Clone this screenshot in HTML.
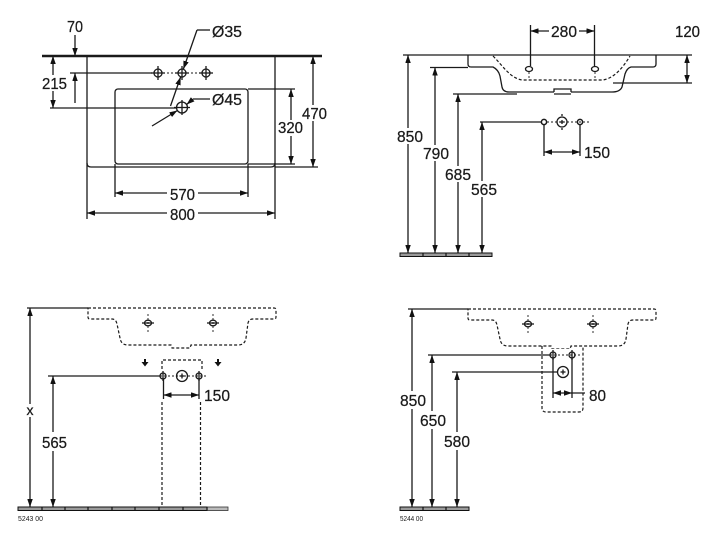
<!DOCTYPE html>
<html><head><meta charset="utf-8">
<style>
html,body{margin:0;padding:0;background:#fff;}
svg{display:block;}
.l{stroke:#1a1a1a;stroke-width:1.3;fill:none;}
.d{stroke:#1a1a1a;stroke-width:1.2;fill:none;stroke-dasharray:3 2;}
.c{stroke:#1a1a1a;stroke-width:0.9;fill:none;stroke-dasharray:2 2;}
.m{marker-start:url(#a);marker-end:url(#a);}
.e{marker-end:url(#a);}
.t{font-family:"Liberation Sans",sans-serif;font-size:16px;fill:#1a1a1a;stroke:#1a1a1a;stroke-width:0.25;}
.s{font-family:"Liberation Sans",sans-serif;font-size:7px;fill:#1a1a1a;}
.w{fill:#fff;stroke:none;}
.f{fill:#9a9a9a;stroke:#111;stroke-width:1;}
</style></head><body>
<svg width="720" height="541" viewBox="0 0 720 541" xmlns="http://www.w3.org/2000/svg">
<defs>
<marker id="a" viewBox="0 0 8 5.5" refX="8" refY="2.75" markerWidth="8" markerHeight="5.5" orient="auto-start-reverse" markerUnits="userSpaceOnUse"><path d="M0,0 L8,2.75 L0,5.5 z" fill="#111"/></marker>
</defs>

<!-- ============ TOP LEFT ============ -->
<line x1="42" y1="56" x2="322" y2="56" stroke="#1a1a1a" stroke-width="2.4"/>
<line class="l" x1="87" y1="56" x2="87" y2="219"/>
<line class="l" x1="275" y1="56" x2="275" y2="219"/>
<path class="l" d="M87,163 Q87,167 91,167 L271,167 Q275,167 275,163"/>
<line class="l" x1="275" y1="167" x2="318" y2="167"/>
<rect class="l" x="115" y="89" width="133" height="75" rx="3"/>
<line class="l" x1="115" y1="164" x2="115" y2="197"/>
<line class="l" x1="248" y1="164" x2="248" y2="197"/>
<line class="l" x1="248" y1="89" x2="295" y2="89"/>
<line class="l" x1="248" y1="164" x2="295" y2="164"/>
<line class="l m" x1="115" y1="193" x2="248" y2="193"/>
<line class="l m" x1="87" y1="213" x2="275" y2="213"/>
<line class="l m" x1="291" y1="89" x2="291" y2="164"/>
<line class="l m" x1="313" y1="56" x2="313" y2="167"/>
<line class="l m" x1="53" y1="56" x2="53" y2="108"/>
<line class="l" x1="50" y1="108" x2="176" y2="108"/>
<line class="l e" x1="75" y1="35" x2="75" y2="56"/>
<line class="l e" x1="75" y1="103" x2="75" y2="73"/>
<line class="l" x1="70" y1="73" x2="152" y2="73"/>
<line class="c" x1="163" y1="73" x2="214" y2="73"/>
<g class="l">
<circle cx="158" cy="73" r="4"/><line x1="151" y1="73" x2="165" y2="73"/><line x1="158" y1="66" x2="158" y2="80"/>
<circle cx="182" cy="73" r="4"/><line x1="175" y1="73" x2="189" y2="73"/><line x1="182" y1="66" x2="182" y2="80"/>
<circle cx="206" cy="73" r="4"/><line x1="199" y1="73" x2="213" y2="73"/><line x1="206" y1="66" x2="206" y2="80"/>
<circle cx="182" cy="107.5" r="5.5"/><line x1="174" y1="107.5" x2="190" y2="107.5"/><line x1="182" y1="100" x2="182" y2="115"/>
</g>
<line class="l" x1="197" y1="30" x2="210" y2="30"/>
<line class="l e" x1="197" y1="30" x2="183.4" y2="69"/>
<line class="l e" x1="170.5" y1="106" x2="180.6" y2="77"/>
<line class="l e" x1="152" y1="126" x2="177.4" y2="110.5"/>
<line class="l e" x1="193" y1="99" x2="186.6" y2="104.5"/>
<line class="l" x1="193" y1="99" x2="210" y2="99"/>
<text class="t" x="67" y="32" textLength="16" lengthAdjust="spacingAndGlyphs">70</text>
<text class="t" x="212" y="37" textLength="30" lengthAdjust="spacingAndGlyphs">Ø35</text>
<rect class="w" x="40" y="75" width="28" height="16"/>
<text class="t" x="42" y="89" textLength="25" lengthAdjust="spacingAndGlyphs">215</text>
<text class="t" x="212" y="105" textLength="30" lengthAdjust="spacingAndGlyphs">Ø45</text>
<rect class="w" x="301" y="105" width="27" height="16"/>
<text class="t" x="302" y="119" textLength="25" lengthAdjust="spacingAndGlyphs">470</text>
<rect class="w" x="277" y="120" width="27" height="16"/>
<text class="t" x="278" y="133" textLength="25" lengthAdjust="spacingAndGlyphs">320</text>
<rect class="w" x="167" y="186" width="31" height="16"/>
<text class="t" x="170" y="200" textLength="25" lengthAdjust="spacingAndGlyphs">570</text>
<rect class="w" x="167" y="206" width="31" height="16"/>
<text class="t" x="170" y="220" textLength="25" lengthAdjust="spacingAndGlyphs">800</text>

<!-- ============ TOP RIGHT ============ -->
<line class="l" x1="403" y1="55" x2="692" y2="55"/>
<path class="l" d="M468,55 L468,64 Q468,67 471,67 L493,67 C497,69 499,72 500,76 L502,87 Q503,92 509,92 L554,92 M571,92 L612,92 Q620,92 622,87 L625,74 Q627,68 631,67 L653,67 Q656,67 656,64 L656,55"/>
<path class="l" d="M554,92 L554,89 L571,89 L571,92 M554,94 L571,94"/>
<path class="d" d="M493,56 C503,66 510,78 522,80 L603,80 C615,78 624,66 630,56"/>
<g class="l">
<ellipse cx="529" cy="69" rx="3.5" ry="2.5"/>
<ellipse cx="595" cy="69" rx="3.5" ry="2.5"/>
</g>
<line class="c" x1="529" y1="72" x2="529" y2="79"/>
<line class="c" x1="595" y1="72" x2="595" y2="79"/>
<line class="l" x1="530.5" y1="25" x2="530.5" y2="66"/>
<line class="l" x1="594.5" y1="25" x2="594.5" y2="66"/>
<line class="l m" x1="530.5" y1="31" x2="594.5" y2="31"/>
<line class="l m" x1="687" y1="55" x2="687" y2="83"/>
<line class="l" x1="613" y1="83" x2="692" y2="83"/>
<line class="l m" x1="408" y1="55" x2="408" y2="253"/>
<line class="l" x1="430" y1="67.5" x2="468" y2="67.5"/>
<line class="l m" x1="435" y1="67.5" x2="435" y2="253"/>
<line class="l" x1="453" y1="94" x2="517" y2="94"/>
<line class="l m" x1="458" y1="94" x2="458" y2="253"/>
<line class="l" x1="480" y1="122" x2="541" y2="122"/>
<line class="l m" x1="482" y1="122" x2="482" y2="253"/>
<line class="c" x1="547" y1="122" x2="591" y2="122"/>
<g class="l">
<circle cx="544" cy="122" r="2.6" stroke-width="1.5"/>
<circle cx="580" cy="122" r="2.6" stroke-width="1.5"/>
<circle cx="562" cy="122" r="5"/>
<line x1="560" y1="122" x2="564" y2="122"/><line x1="562" y1="120" x2="562" y2="124"/>
<line x1="562" y1="114" x2="562" y2="116"/><line x1="562" y1="128" x2="562" y2="130"/>
</g>
<line class="l" x1="544" y1="125" x2="544" y2="156"/>
<line class="l" x1="580" y1="125" x2="580" y2="156"/>
<line class="l m" x1="544" y1="152" x2="580" y2="152"/>
<rect class="f" x="400" y="253" width="92" height="3.5"/>
<g stroke="#111" stroke-width="1.2"><line x1="423" y1="253" x2="423" y2="256.5"/><line x1="446" y1="253" x2="446" y2="256.5"/><line x1="469" y1="253" x2="469" y2="256.5"/></g>
<rect class="w" x="549" y="23" width="30" height="16"/>
<text class="t" x="551" y="37" textLength="26" lengthAdjust="spacingAndGlyphs">280</text>
<text class="t" x="675" y="37" textLength="25" lengthAdjust="spacingAndGlyphs">120</text>
<rect class="w" x="396" y="128" width="28" height="16"/>
<text class="t" x="397" y="142" textLength="26" lengthAdjust="spacingAndGlyphs">850</text>
<rect class="w" x="422" y="145" width="28" height="16"/>
<text class="t" x="423" y="159" textLength="26" lengthAdjust="spacingAndGlyphs">790</text>
<rect class="w" x="444" y="166" width="28" height="16"/>
<text class="t" x="445" y="180" textLength="26" lengthAdjust="spacingAndGlyphs">685</text>
<rect class="w" x="470" y="181" width="28" height="16"/>
<text class="t" x="471" y="195" textLength="26" lengthAdjust="spacingAndGlyphs">565</text>
<text class="t" x="584" y="158" textLength="26" lengthAdjust="spacingAndGlyphs">150</text>

<!-- ============ BOTTOM LEFT ============ -->
<line class="l" x1="27" y1="308" x2="88" y2="308" stroke-width="1.7"/>
<g id="basin">
<path class="d" d="M88,308 L274,308 Q276,308 276,310 L276,317 Q276,319 274,319 L253,319 Q249,319 248,323 L246,338 Q245,345 238,345 L191,345 L190,348 L172,348 L171,345 L128,345 Q121,345 120,338 L117,324 Q116,319 112,319 L90,319 Q88,319 88,317 Z"/>
<g class="l">
<ellipse cx="148" cy="323" rx="3.5" ry="2.8"/><line x1="142" y1="323" x2="154" y2="323"/>
<ellipse cx="213" cy="323" rx="3.5" ry="2.8"/><line x1="207" y1="323" x2="219" y2="323"/>
</g>
<line class="c" x1="148" y1="314" x2="148" y2="333"/>
<line class="c" x1="213" y1="314" x2="213" y2="333"/>
</g>
<path d="M144,359 L146,359 L146,362 L148.5,362 L145,366.5 L141.5,362 L144,362 Z" fill="#111"/>
<path d="M217,359 L219,359 L219,362 L221.5,362 L218,366.5 L214.5,362 L217,362 Z" fill="#111"/>
<path class="d" d="M162,369 L162,360 L202,360 L202,369"/>
<line class="c" x1="156" y1="376" x2="206" y2="376"/>
<g class="l">
<circle cx="163" cy="376" r="3"/><line x1="163" y1="371" x2="163" y2="381"/>
<circle cx="199" cy="376" r="3"/><line x1="199" y1="371" x2="199" y2="381"/>
<circle cx="182" cy="376" r="5.5"/><line x1="179.5" y1="376" x2="184.5" y2="376"/><line x1="182" y1="373.5" x2="182" y2="378.5"/>
</g>
<line class="l" x1="48" y1="376" x2="160" y2="376"/>
<line class="l" x1="163.5" y1="379" x2="163.5" y2="399"/>
<line class="l" x1="199" y1="379" x2="199" y2="399"/>
<line class="l m" x1="163.5" y1="395" x2="199" y2="395"/>
<line class="d" x1="162" y1="402" x2="162" y2="507"/>
<line class="d" x1="200.5" y1="402" x2="200.5" y2="507"/>
<line class="l m" x1="30" y1="308" x2="30" y2="507"/>
<line class="l m" x1="53" y1="376" x2="53" y2="507"/>
<rect class="f" x="18" y="507" width="189" height="3.5"/>
<rect x="207" y="507" width="21" height="3.5" fill="#bbb" stroke="#333" stroke-width="0.8"/>
<g stroke="#111" stroke-width="1.2"><line x1="42" y1="507" x2="42" y2="510.5"/><line x1="65" y1="507" x2="65" y2="510.5"/><line x1="88" y1="507" x2="88" y2="510.5"/><line x1="112" y1="507" x2="112" y2="510.5"/><line x1="135" y1="507" x2="135" y2="510.5"/><line x1="159" y1="507" x2="159" y2="510.5"/><line x1="183" y1="507" x2="183" y2="510.5"/><line x1="207" y1="507" x2="207" y2="510.5"/></g>
<rect class="w" x="25" y="404" width="10" height="13"/>
<text class="t" x="26.5" y="415" textLength="7" lengthAdjust="spacingAndGlyphs" style="font-size:14px">x</text>
<rect class="w" x="41" y="432" width="27" height="19"/>
<text class="t" x="42" y="448" textLength="25" lengthAdjust="spacingAndGlyphs">565</text>
<text class="t" x="204" y="401" textLength="26" lengthAdjust="spacingAndGlyphs">150</text>
<text class="s" x="18" y="521" textLength="25" lengthAdjust="spacingAndGlyphs">5243 00</text>

<!-- ============ BOTTOM RIGHT ============ -->
<line class="l" x1="408" y1="309" x2="468" y2="309" stroke-width="1.7"/>
<use href="#basin" transform="translate(380,1)"/>
<rect x="543" y="349" width="39" height="6" fill="#fff"/>
<path class="d" d="M542,346 L542,408 Q542,412 546,412 L579,412 Q583,412 583,408 L583,346"/>
<line class="c" x1="546" y1="355" x2="580" y2="355"/>
<g class="l">
<circle cx="553" cy="355" r="3"/><line x1="553" y1="350" x2="553" y2="360"/>
<circle cx="572" cy="355" r="3"/><line x1="572" y1="350" x2="572" y2="360"/>
<circle cx="563" cy="372" r="5.5"/><line x1="560.5" y1="372" x2="565.5" y2="372"/><line x1="563" y1="369.5" x2="563" y2="374.5"/>
</g>
<line class="l" x1="428" y1="355" x2="550" y2="355"/>
<line class="l" x1="452" y1="372" x2="557.5" y2="372"/>
<line class="l" x1="553" y1="358" x2="553" y2="398"/>
<line class="l" x1="572" y1="358" x2="572" y2="398"/>
<line class="l" x1="553" y1="393" x2="585" y2="393"/>
<path d="M553,393 L561,390.2 L561,395.8 Z M572,393 L564,390.2 L564,395.8 Z" fill="#111"/>
<line class="l m" x1="412" y1="309" x2="412" y2="507"/>
<line class="l m" x1="432" y1="355" x2="432" y2="507"/>
<line class="l m" x1="457" y1="372" x2="457" y2="507"/>
<rect class="f" x="400" y="507" width="69" height="3.5"/>
<g stroke="#111" stroke-width="1.2"><line x1="423" y1="507" x2="423" y2="510.5"/><line x1="446" y1="507" x2="446" y2="510.5"/></g>
<rect class="w" x="399" y="391" width="28" height="18"/>
<text class="t" x="400" y="406" textLength="26" lengthAdjust="spacingAndGlyphs">850</text>
<rect class="w" x="419" y="411" width="28" height="18"/>
<text class="t" x="420" y="426" textLength="26" lengthAdjust="spacingAndGlyphs">650</text>
<rect class="w" x="443" y="432" width="28" height="18"/>
<text class="t" x="444" y="447" textLength="26" lengthAdjust="spacingAndGlyphs">580</text>
<text class="t" x="589" y="401" textLength="17" lengthAdjust="spacingAndGlyphs">80</text>
<text class="s" x="400" y="521" textLength="23" lengthAdjust="spacingAndGlyphs">5244 00</text>
</svg>
</body></html>
